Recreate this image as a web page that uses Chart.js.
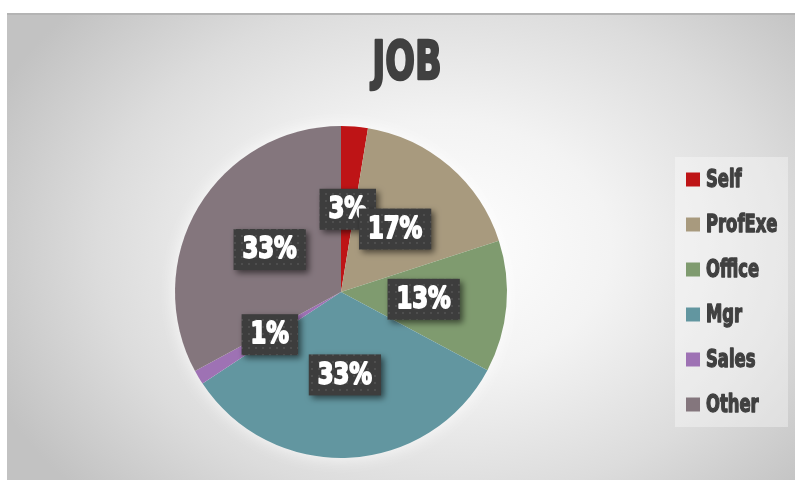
<!DOCTYPE html>
<html>
<head>
<meta charset="utf-8">
<script src="https://cdn.jsdelivr.net/npm/chart.js@4.4.1/dist/chart.umd.min.js"></script>
<style>
  html, body { margin: 0; padding: 0; background: #fff; }
  #frame {
    position: absolute; left: 7px; top: 13px; width: 788px; height: 467px;
    border-top: 2px solid #b4b4b4; box-sizing: border-box;
    background: radial-gradient(ellipse 62% 78% at 55% 50%, #ffffff 0%, #f3f3f3 35%, #dcdcdc 70%, #c2c2c2 100%);
  }
  #frame canvas { display: block; }
</style>
</head>
<body>
<div id="frame"><canvas id="jobChart"></canvas></div>
<script>
  // Meslek dağılımı (yüzde)
  const jobLabels = ["Self", "ProfExe", "Office", "Mgr", "Sales", "Other"];
  const jobValues = [2.6, 17.4, 12.8, 32.9, 1.4, 32.9];
  const jobColors = ["#be1416", "#a89a7e", "#7f9b6f", "#6296a0", "#9e72b4", "#84767d"];

  const FONT = "'Liberation Sans Narrow', 'DejaVu Sans Condensed', 'Arial Narrow', sans-serif";

  // koyu noktalı kutu deseni
  function dotPattern(ctx) {
    const p = document.createElement("canvas");
    p.width = 7; p.height = 7;
    const c = p.getContext("2d");
    c.fillStyle = "#3d3d3d"; c.fillRect(0, 0, 7, 7);
    c.fillStyle = "#4e4e4e"; c.fillRect(3, 3, 2, 2);
    return ctx.createPattern(p, "repeat");
  }

  // sıkıştırılmış kalın yazı (Impact benzeri)
  function narrowText(ctx, txt, x, y, size, sx, color, lw, align) {
    ctx.save();
    ctx.font = "bold " + size + "px " + FONT;
    ctx.textAlign = align || "center"; ctx.textBaseline = "middle";
    ctx.translate(x, y); ctx.scale(sx, 1);
    ctx.fillStyle = color; ctx.strokeStyle = color; ctx.lineWidth = lw;
    ctx.lineJoin = "round";
    ctx.strokeText(txt, 0, 0); ctx.fillText(txt, 0, 0);
    ctx.restore();
  }

  const decor = {
    id: "decor",
    beforeDatasetsDraw(chart) {
      const ctx = chart.ctx, arc = chart.getDatasetMeta(0).data[0];
      if (!arc) return;
      // pastanın etrafındaki hafif beyaz hale
      ctx.save();
      ctx.shadowColor = "rgba(255,255,255,0.9)"; ctx.shadowBlur = 18;
      ctx.fillStyle = "#fff";
      ctx.beginPath(); ctx.arc(arc.x, arc.y, arc.outerRadius - 1, 0, Math.PI * 2); ctx.fill();
      ctx.restore();
    },
    beforeDraw(chart) {
      const ctx = chart.ctx, lg = chart.legend;
      const hb = lg.legendHitBoxes;
      // lejant zemini
      ctx.save();
      ctx.fillStyle = "rgba(255,255,255,0.35)";
      const x0 = hb[0].left - 11;
      ctx.fillRect(x0, lg.top + (lg.height - 270) / 2, chart.width - 7 - x0, 270);
      ctx.restore();
      narrowText(ctx, "JOB", chart.width / 2 + 6, 50, 54, 0.72, "#404040", 2.4);
    },
    afterDraw(chart) {
      // lejant yazıları (dar kalın)
      const ctx = chart.ctx, hb = chart.legend.legendHitBoxes;
      hb.forEach((b, i) => {
        narrowText(ctx, jobLabels[i], b.left + 20, b.top + b.height / 2 + 1, 24, 0.76, "#404040", 1.3, "left");
      });
    },
    afterDatasetsDraw(chart) {
      const ctx = chart.ctx, meta = chart.getDatasetMeta(0);
      const total = jobValues.reduce((s, v) => s + v, 0);
      const pat = dotPattern(ctx);
      meta.data.forEach((a, i) => {
        const pos = a.tooltipPosition();
        const txt = Math.round(jobValues[i] / total * 100) + "%";
        ctx.save();
        ctx.font = "bold 30px " + FONT;
        const w = ctx.measureText(txt).width * 0.84 + 18, h = 41;
        ctx.shadowColor = "rgba(0,0,0,0.55)"; ctx.shadowBlur = 6;
        ctx.shadowOffsetX = 3; ctx.shadowOffsetY = 3;
        ctx.fillStyle = pat;
        ctx.fillRect(pos.x - w / 2, pos.y - h / 2, w, h);
        ctx.restore();
        narrowText(ctx, txt, pos.x, pos.y + 1, 30, 0.84, "#ffffff", 1.8);
      });
    }
  };

  new Chart(document.getElementById("jobChart"), {
    type: "pie",
    data: { labels: jobLabels, datasets: [{ data: jobValues, backgroundColor: jobColors, borderWidth: 0 }] },
    options: {
      responsive: true, maintainAspectRatio: false, animation: false,
      layout: { padding: { top: 111, bottom: 22, left: 11, right: 7 } },
      plugins: {
        title: { display: false },
        tooltip: { enabled: false },
        legend: {
          position: "right",
          maxWidth: 124,
          labels: { boxWidth: 14, boxHeight: 14, padding: 22, color: "rgba(0,0,0,0)", font: { family: FONT, size: 23, weight: "bold" } }
        }
      }
    },
    plugins: [decor]
  });
</script>
</body>
</html>
